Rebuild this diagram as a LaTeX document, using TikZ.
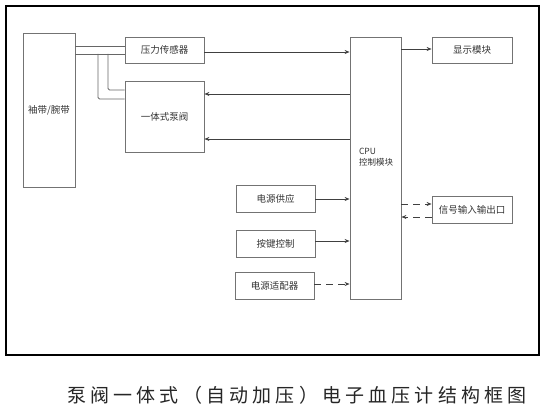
\documentclass[tikz,border=0pt]{standalone}
\usepackage{fontspec}
\setmainfont{Noto Sans CJK SC}
\usetikzlibrary{arrows.meta}
\tikzset{
	blk/.style={draw=black!55, line width=0.8pt, inner sep=0pt, text=black!80, font=\fontsize{9.5}{11}\selectfont},
	pipe/.style={draw=black!60, line width=0.8pt, rounded corners=1.5pt},
	sig/.style={draw=black!75, line width=0.8pt, -{Stealth[length=5pt,width=4pt]}},
	sigd/.style={sig, dash pattern=on 7pt off 5pt},
}

\begin{document}
\begin{tikzpicture}[x=1pt, y=-1pt]
			%%%%% START %%%%%
			\useasboundingbox (0,0) rectangle (546,409);
			\draw[line width=1.2pt] (6,6) rectangle (539,355);
			
			\node[blk, minimum width=52pt, minimum height=154pt] (cuff) at (49,110) {袖带/腕带};
			\node[blk, minimum width=79pt, minimum height=26pt] (sensor) at (164.5,50) {压力传感器};
			\node[blk, minimum width=79pt, minimum height=71pt] (pump) at (164.5,116.5) {一体式泵阀};
			\node[blk, minimum width=51pt, minimum height=262pt] (cpu) at (375.5,168) {};
			\node[blk, align=left, draw=none, font=\fontsize{8.5}{11}\selectfont] (cputext) at (376,157) {CPU\\控制模块};
			\node[blk, minimum width=80pt, minimum height=26pt] (display) at (472,50) {显示模块};
			\node[blk, minimum width=80pt, minimum height=27pt] (io) at (472,209.5) {信号输入输出口};
			\node[blk, minimum width=79pt, minimum height=27pt] (power) at (275.5,198.5) {电源供应};
			\node[blk, minimum width=79pt, minimum height=27pt] (keys) at (275.5,243.5) {按键控制};
			\node[blk, minimum width=79pt, minimum height=27pt] (adapter) at (274.5,285.5) {电源适配器};
			
			% air tubes
			\coordinate (tubeA) at (98,54);
			\coordinate (tubeB) at (108,54);
			\draw[pipe] (cuff.east |- 0,46) -- (sensor.west |- 0,46);
			\draw[pipe] (cuff.east |- 0,54) -- (sensor.west |- 0,54);
			\draw[pipe] (tubeA) -- (tubeA |- 0,99) -- (pump.west |- 0,99);
			\draw[pipe] (tubeB) -- (tubeB |- 0,90) -- (pump.west |- 0,90);
			
			% signals
			\draw[sig] (sensor.east |- 0,52) -- (cpu.west |- 0,52);
			\draw[sig] (cpu.west |- 0,94) -- (pump.east |- 0,94);
			\draw[sig] (cpu.west |- 0,139) -- (pump.east |- 0,139);
			\draw[sig] (cpu.east |- 0,49) -- (display.west |- 0,49);
			\draw[sig] (power.east |- 0,199) -- (cpu.west |- 0,199);
			\draw[sig] (keys.east |- 0,241) -- (cpu.west |- 0,241);
			\draw[sigd] (adapter.east |- 0,284) -- (cpu.west |- 0,284);
			\draw[sigd] (cpu.east |- 0,204) -- (io.west |- 0,204);
			\draw[sigd] (io.west |- 0,217) -- (cpu.east |- 0,217);
			
			\node[text=black!85, font=\fontsize{19}{22}\selectfont\addfontfeature{LetterSpace=22}] (title) at (297,395) {泵阀一体式（自动加压）电子血压计结构框图};
			%%%%% END %%%%%
\end{tikzpicture}
\end{document}
